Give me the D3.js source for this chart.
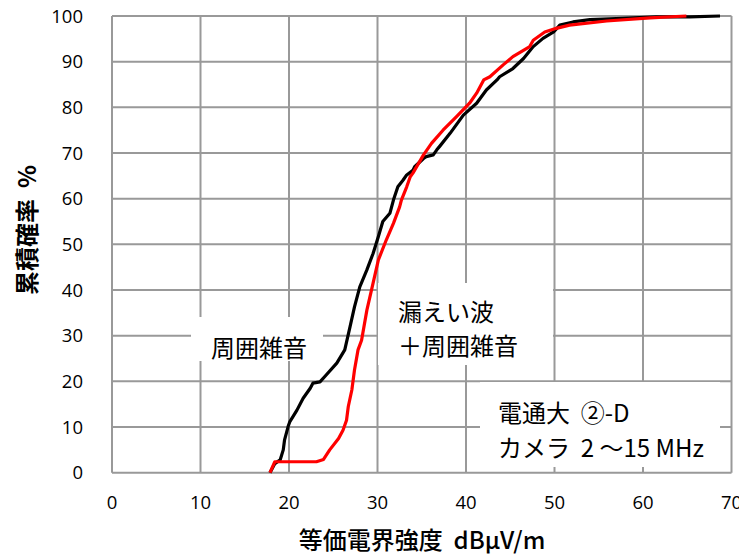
<!DOCTYPE html>
<html><head><meta charset="utf-8">
<script src="https://cdn.jsdelivr.net/npm/d3@7"></script>
<style>body{margin:0;background:#fff}svg{display:block}text{white-space:pre}</style>
</head><body>
<svg id="c" width="739" height="556"></svg>
<script>
const xTicks = [0,10,20,30,40,50,60,70];
const yTicks = [0,10,20,30,40,50,60,70,80,90,100];
const xTitle = "等価電界強度  dBμV/m";
const yTitle = "累積確率  %";
const label1 = ["周囲雑音"];
const label2 = ["漏えい波", "＋周囲雑音"];
const label3 = ["電通大  ②-D", "カメラ  2 ～15 MHz"];
// 周囲雑音 (black)
const ambientX = [17.85,18.4,19.0,19.35,19.5,19.9,20.1,20.9,21.6,22.4,22.7,23.5,24.2,25.4,26.3,26.9,27.4,28.0,28.8,29.5,30.1,30.6,31.4,31.8,32.3,32.9,33.3,34.0,34.2,35.2,35.5,36.3,36.7,37.0,38.2,39.7,41.2,42.3,43.5,43.8,45.3,46.5,47.6,48.7,49.9,50.6,52.1,54.0,57.7,61.5,65.3,68.7];
const ambientY = [0,2.0,2.8,5,7.2,10.1,11.2,13.7,16.3,18.5,19.6,19.9,21.4,24.0,26.9,32,36.3,40.7,44.4,48.0,51.7,55.0,56.8,59.7,62.6,64.1,65.2,66.2,67.0,68.8,69.2,69.6,70.7,71.4,74.3,78.3,80.9,83.8,86.0,86.7,88.5,90.7,93.3,95.1,96.5,98.0,98.7,99.2,99.5,99.8,99.8,100];
// 漏えい波＋周囲雑音 (red)
const leakX = [17.85,18.4,23.1,23.9,24.6,25.6,26.1,26.5,26.7,27.1,27.4,27.8,28.2,28.8,29.5,30.1,31.0,31.8,32.5,32.7,33.3,33.7,34.0,35.2,36.1,37.4,38.9,40.4,41.2,42.0,42.7,44.2,45.3,47.2,47.6,48.9,50.2,51.7,55.9,60.8,64.9];
const leakY = [0,2.4,2.4,2.9,5.0,7.5,9.3,11.5,14.5,18.1,22.5,26.9,29,35.6,41.5,46.6,51.0,54.6,58.2,59.7,62.6,64.8,65.6,69.6,72.1,75.0,77.9,80.9,83.1,86.0,86.7,89.3,91.1,93.3,94.7,96.5,97.3,98.0,98.9,99.6,100];

const svg = d3.select("#c");
const L=112, R=731.5, T=16, B=472.7;
const x = d3.scaleLinear().domain([0,70]).range([L,R]);
const y = d3.scaleLinear().domain([0,100]).range([B,T]);
const grid = "#999";
const g = svg.append("g");
g.selectAll(".vx").data(xTicks).join("line").attr("x1",d=>x(d)).attr("x2",d=>x(d)).attr("y1",T).attr("y2",B).attr("stroke",grid).attr("stroke-width",2);
g.selectAll(".hy").data(yTicks).join("line").attr("x1",L).attr("x2",R).attr("y1",d=>y(d)).attr("y2",d=>y(d)).attr("stroke",grid).attr("stroke-width",2);

const tickFont = "'Open Sans', 'Noto Sans', sans-serif";
svg.selectAll(".yt").data(yTicks).join("text").attr("x",83).attr("y",d=>y(d)).attr("dy","0.36em").attr("text-anchor","end").attr("font-family",tickFont).attr("font-size",18.5).attr("fill","#000").text(d=>d);
svg.selectAll(".xt").data(xTicks).join("text").attr("x",d=>x(d)).attr("y",502).attr("dy","0.36em").attr("text-anchor","middle").attr("font-family",tickFont).attr("font-size",18.5).attr("fill","#000").text(d=>d);

const jp = "'Noto Sans CJK JP', sans-serif";
svg.append("text").attr("x",422).attr("y",540).attr("dy","0.36em").attr("text-anchor","middle").attr("font-family",jp).attr("font-size",24).attr("font-weight",500).text(xTitle);
svg.append("text").attr("transform","translate(27,230) rotate(-90)").attr("dy","0.36em").attr("text-anchor","middle").attr("font-family",jp).attr("font-size",24).attr("font-weight",700).text(yTitle);

function box(x0,y0,x1,y1,lines,tx,ty0,dy){
  svg.append("rect").attr("x",x0).attr("y",y0).attr("width",x1-x0).attr("height",y1-y0).attr("fill","#fff");
  lines.forEach((t,i)=>svg.append("text").attr("x",tx).attr("y",ty0+i*dy).attr("dy","0.36em").attr("font-family",jp).attr("font-size",24).attr("fill","#000").text(t));
}
box(191,317,323,361,label1,211,348,0);
box(378,283,553,365,label2,398,312,34);
box(480,382,720,467,label3,498,413,35);

const line = d3.line().x(d=>x(d[0])).y(d=>y(d[1]));
svg.append("path").datum(ambientX.map((v,i)=>[v,ambientY[i]])).attr("d",line).attr("fill","none").attr("stroke","#000").attr("stroke-width",3.2).attr("stroke-linejoin","round");
svg.append("path").datum(leakX.map((v,i)=>[v,leakY[i]])).attr("d",line).attr("fill","none").attr("stroke","#ff0000").attr("stroke-width",3.2).attr("stroke-linejoin","round");
</script>
</body></html>
